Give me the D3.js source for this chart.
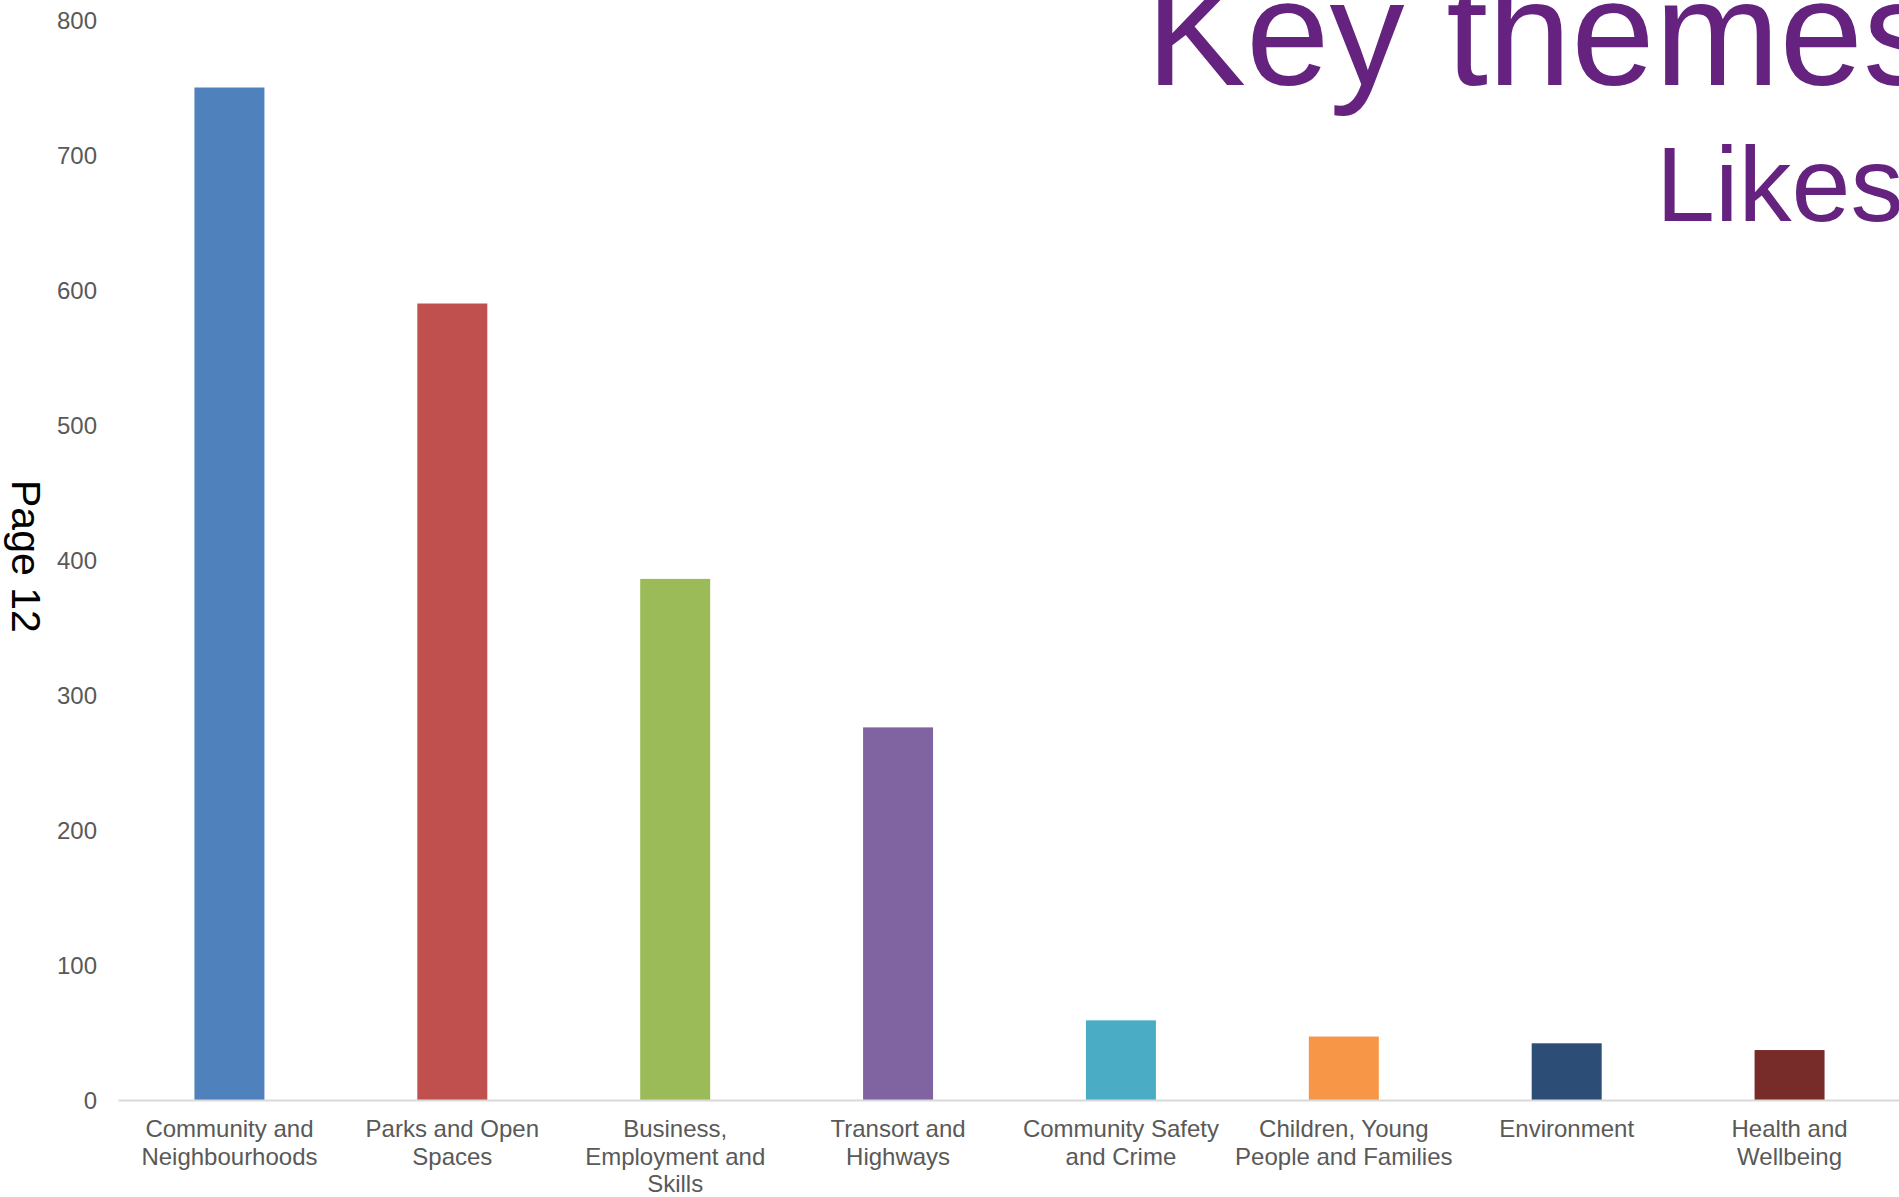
<!DOCTYPE html>
<html>
<head>
<meta charset="utf-8">
<script src="https://cdn.jsdelivr.net/npm/d3@7"></script>
<style>
  body { margin: 0; background: #fff; }
  text { font-family: "Liberation Sans", Arial, sans-serif; }
</style>
</head>
<body>
<div id="vis"></div>
<script>
// data
var categories = ["Community and Neighbourhoods", "Parks and Open Spaces", "Business, Employment and Skills",
  "Transort and Highways", "Community Safety and Crime", "Children, Young People and Families",
  "Environment", "Health and Wellbeing"];
var labelLines = [["Community and", "Neighbourhoods"], ["Parks and Open", "Spaces"], ["Business,", "Employment and", "Skills"],
  ["Transort and", "Highways"], ["Community Safety", "and Crime"], ["Children, Young", "People and Families"],
  ["Environment"], ["Health and", "Wellbeing"]];
var likes = [750, 590, 386, 276, 59, 47, 42, 37];
var barColors = ["#4F81BD", "#C0504D", "#9BBB59", "#8064A2", "#4BACC6", "#F79646", "#2C4D75", "#772C2A"];
var yTicks = [0, 100, 200, 300, 400, 500, 600, 700, 800];

var width = 1899, height = 1197;

var svg = d3.select("#vis").append("svg")
  .attr("width", width)
  .attr("height", height);

var x = d3.scaleBand()
  .domain(categories)
  .range([118, 1901])
  .paddingInner(0.686)
  .paddingOuter(0.343);

var y = d3.scaleLinear()
  .domain([0, 800])
  .range([1100, 20]);

var color = d3.scaleOrdinal()
  .domain(categories)
  .range(barColors);

// y axis, labels only
var yAxis = svg.append("g")
  .attr("transform", "translate(97,0)")
  .call(d3.axisLeft(y).tickValues(yTicks).tickSize(0).tickPadding(0));
yAxis.select(".domain").remove();
yAxis.selectAll("text")
  .style("font-size", "24px")
  .attr("fill", "#595959")
  .attr("dy", "0.35em");

// bars
svg.append("g")
  .selectAll("rect")
  .data(likes)
  .enter().append("rect")
    .attr("x", function(d, i) { return x(categories[i]); })
    .attr("y", function(d) { return y(d); })
    .attr("width", x.bandwidth())
    .attr("height", function(d) { return y(0) - y(d); })
    .attr("fill", function(d, i) { return color(categories[i]); });

// x axis
var xAxis = svg.append("g")
  .attr("transform", "translate(0," + y(0) + ")")
  .call(d3.axisBottom(x).tickSize(0).tickFormat(""));
xAxis.select(".domain")
  .attr("stroke", "#D9D9D9")
  .attr("stroke-width", 2);

xAxis.selectAll(".tick").each(function(d, i) {
  var t = d3.select(this).select("text")
    .attr("y", 0)
    .attr("dy", null)
    .attr("fill", "#595959")
    .style("font-size", "24px");
  t.selectAll("tspan")
    .data(labelLines[i])
    .enter().append("tspan")
      .attr("x", 0)
      .attr("y", function(l, j) { return 37 + j * 27.5; })
      .text(function(l) { return l; });
});

// titles (run off the right edge, as on the slide)
svg.append("text")
  .attr("x", 1146)
  .attr("y", 85)
  .attr("fill", "#65237F")
  .style("font-size", "150px")
  .text("Key themes");

svg.append("text")
  .attr("x", 1656)
  .attr("y", 221)
  .attr("fill", "#65237F")
  .style("font-size", "106px")
  .text("Likes");

// page marker
svg.append("text")
  .attr("transform", "translate(12,480) rotate(90)")
  .attr("fill", "#000")
  .style("font-size", "41px")
  .text("Page 12");
</script>
</body>
</html>
